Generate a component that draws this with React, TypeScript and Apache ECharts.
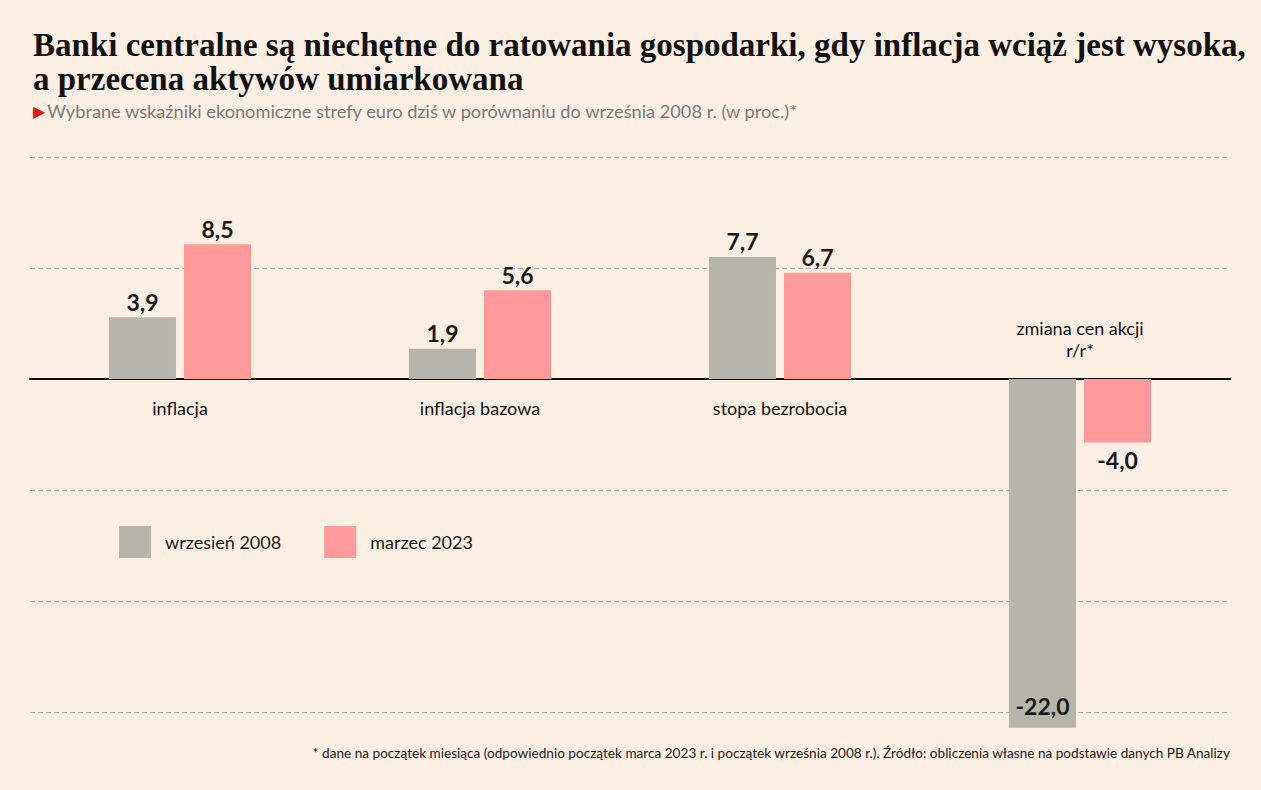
import React, { useEffect, useRef } from "react";
import * as echarts from "echarts";

const categories = ["inflacja", "inflacja bazowa", "stopa bezrobocia", "zmiana cen akcji\nr/r*"];
const seriesNames = ["wrzesień 2008", "marzec 2023"];
const sep2008 = [3.9, 1.9, 7.7, -22.0];
const mar2023 = [8.5, 5.6, 6.7, -4.0];
const yTicks = { min: -21, max: 14, interval: 7 };

const title = "Banki centralne są niechętne do ratowania gospodarki, gdy inflacja wciąż jest wysoka,\na przecena aktywów umiarkowana";
const subtitle = "Wybrane wskaźniki ekonomiczne strefy euro dziś w porównaniu do września 2008 r. (w proc.)*";
const footnote = "* dane na początek miesiąca (odpowiednio początek marca 2023 r. i początek września 2008 r.). Źródło: obliczenia własne na podstawie danych PB Analizy";

const BG = "#FBEEE2";
const GREY = "#B5B5AA";
const PINK = "#FF9A9A";
const SANS = "Lato, 'Noto Sans', sans-serif";

const fmt = (v: number) => v.toFixed(1).replace(".", ",");

export default function App() {
  const ref = useRef<HTMLDivElement>(null);
  useEffect(() => {
    if (!ref.current) return;
    const chart = echarts.init(ref.current, null, { renderer: "svg" });
    const valueLabel = {
      show: true,
      fontFamily: SANS,
      fontSize: 23,
      fontWeight: "bold" as const,
      color: "#1a1a1a",
      distance: 4,
      formatter: (p: any) => fmt(p.value),
    };
    const mkData = (arr: number[], isGrey: boolean) =>
      arr.map((v) => {
        if (v >= 0) return { value: v, label: { position: "top" } };
        if (isGrey && v < -10) return { value: v, label: { position: "insideBottom", distance: 10 } };
        return { value: v, label: { position: "bottom", distance: 6 } };
      });
    chart.setOption({
      animation: false,
      backgroundColor: BG,
      textStyle: { fontFamily: SANS },
      title: [
        {
          text: title,
          left: 28,
          top: 23,
          textStyle: {
            fontFamily: "'Liberation Serif', serif",
            fontWeight: 900,
            fontSize: 33,
            lineHeight: 34,
            color: "#111",
          },
        },
        {
          text: "{tri|▶}{t|" + subtitle + "}",
          left: 28,
          top: 97,
          textStyle: {
            fontWeight: "normal",
            rich: {
              tri: { color: "#E8141B", fontSize: 16, fontWeight: "normal", padding: [0, 2, 0, 0], fontFamily: "'DejaVu Sans', sans-serif" },
              t: { color: "#7a7a7a", fontSize: 18.2, fontWeight: "normal", fontFamily: SANS },
            },
          },
        },
        {
          text: footnote,
          right: 25,
          top: 741,
          textStyle: { fontFamily: SANS, fontSize: 13.6, fontWeight: "normal", color: "#222" },
        },
      ],
      legend: {
        left: 114,
        top: 521,
        itemWidth: 32,
        itemHeight: 32,
        itemGap: 43,
        icon: "rect",
        data: seriesNames,
        textStyle: { fontFamily: SANS, fontSize: 18, color: "#1a1a1a", padding: [0, 0, 0, 9] },
      },
      grid: { left: 30, right: 31, top: 157, bottom: 78, containLabel: false },
      xAxis: {
        type: "category",
        data: categories,
        axisLine: { onZero: true, lineStyle: { color: "#111", width: 2 } },
        axisTick: { show: false },
        axisLabel: { show: false },
        splitLine: { show: false },
      },
      yAxis: {
        type: "value",
        min: yTicks.min,
        max: yTicks.max,
        interval: yTicks.interval,
        axisLine: { show: false },
        axisTick: { show: false },
        axisLabel: { show: false },
        splitLine: { show: true, lineStyle: { color: "#aaa", type: [5, 3], width: 1 } },
      },
      series: [
        {
          name: seriesNames[0],
          type: "bar",
          clip: false,
          barWidth: 67,
          barGap: "12%",
          itemStyle: { color: GREY },
          label: valueLabel,
          data: mkData(sep2008, true),
          z: 2,
        },
        {
          name: seriesNames[1],
          type: "bar",
          clip: false,
          barWidth: 67,
          barGap: "12%",
          itemStyle: { color: PINK },
          label: valueLabel,
          data: mkData(mar2023, false),
          z: 2,
        },
        {
          type: "scatter",
          symbolSize: 0,
          silent: true,
          z: 5,
          itemStyle: { opacity: 1 },
          data: categories.map((c, i) => ({
            value: [i, 0],
            label: {
              show: true,
              position: i === 3 ? "top" : "bottom",
              distance: 18,
              formatter: c,
              fontFamily: SANS,
              fontSize: 18,
              lineHeight: 22,
              color: "#111",
              opacity: 1,
              align: "center",
            },
          })),
        },
      ],
    });
    return () => chart.dispose();
  }, []);
  return <div ref={ref} style={{ position: "fixed", left: 0, top: 0, width: 1261, height: 790 }} />;
}
